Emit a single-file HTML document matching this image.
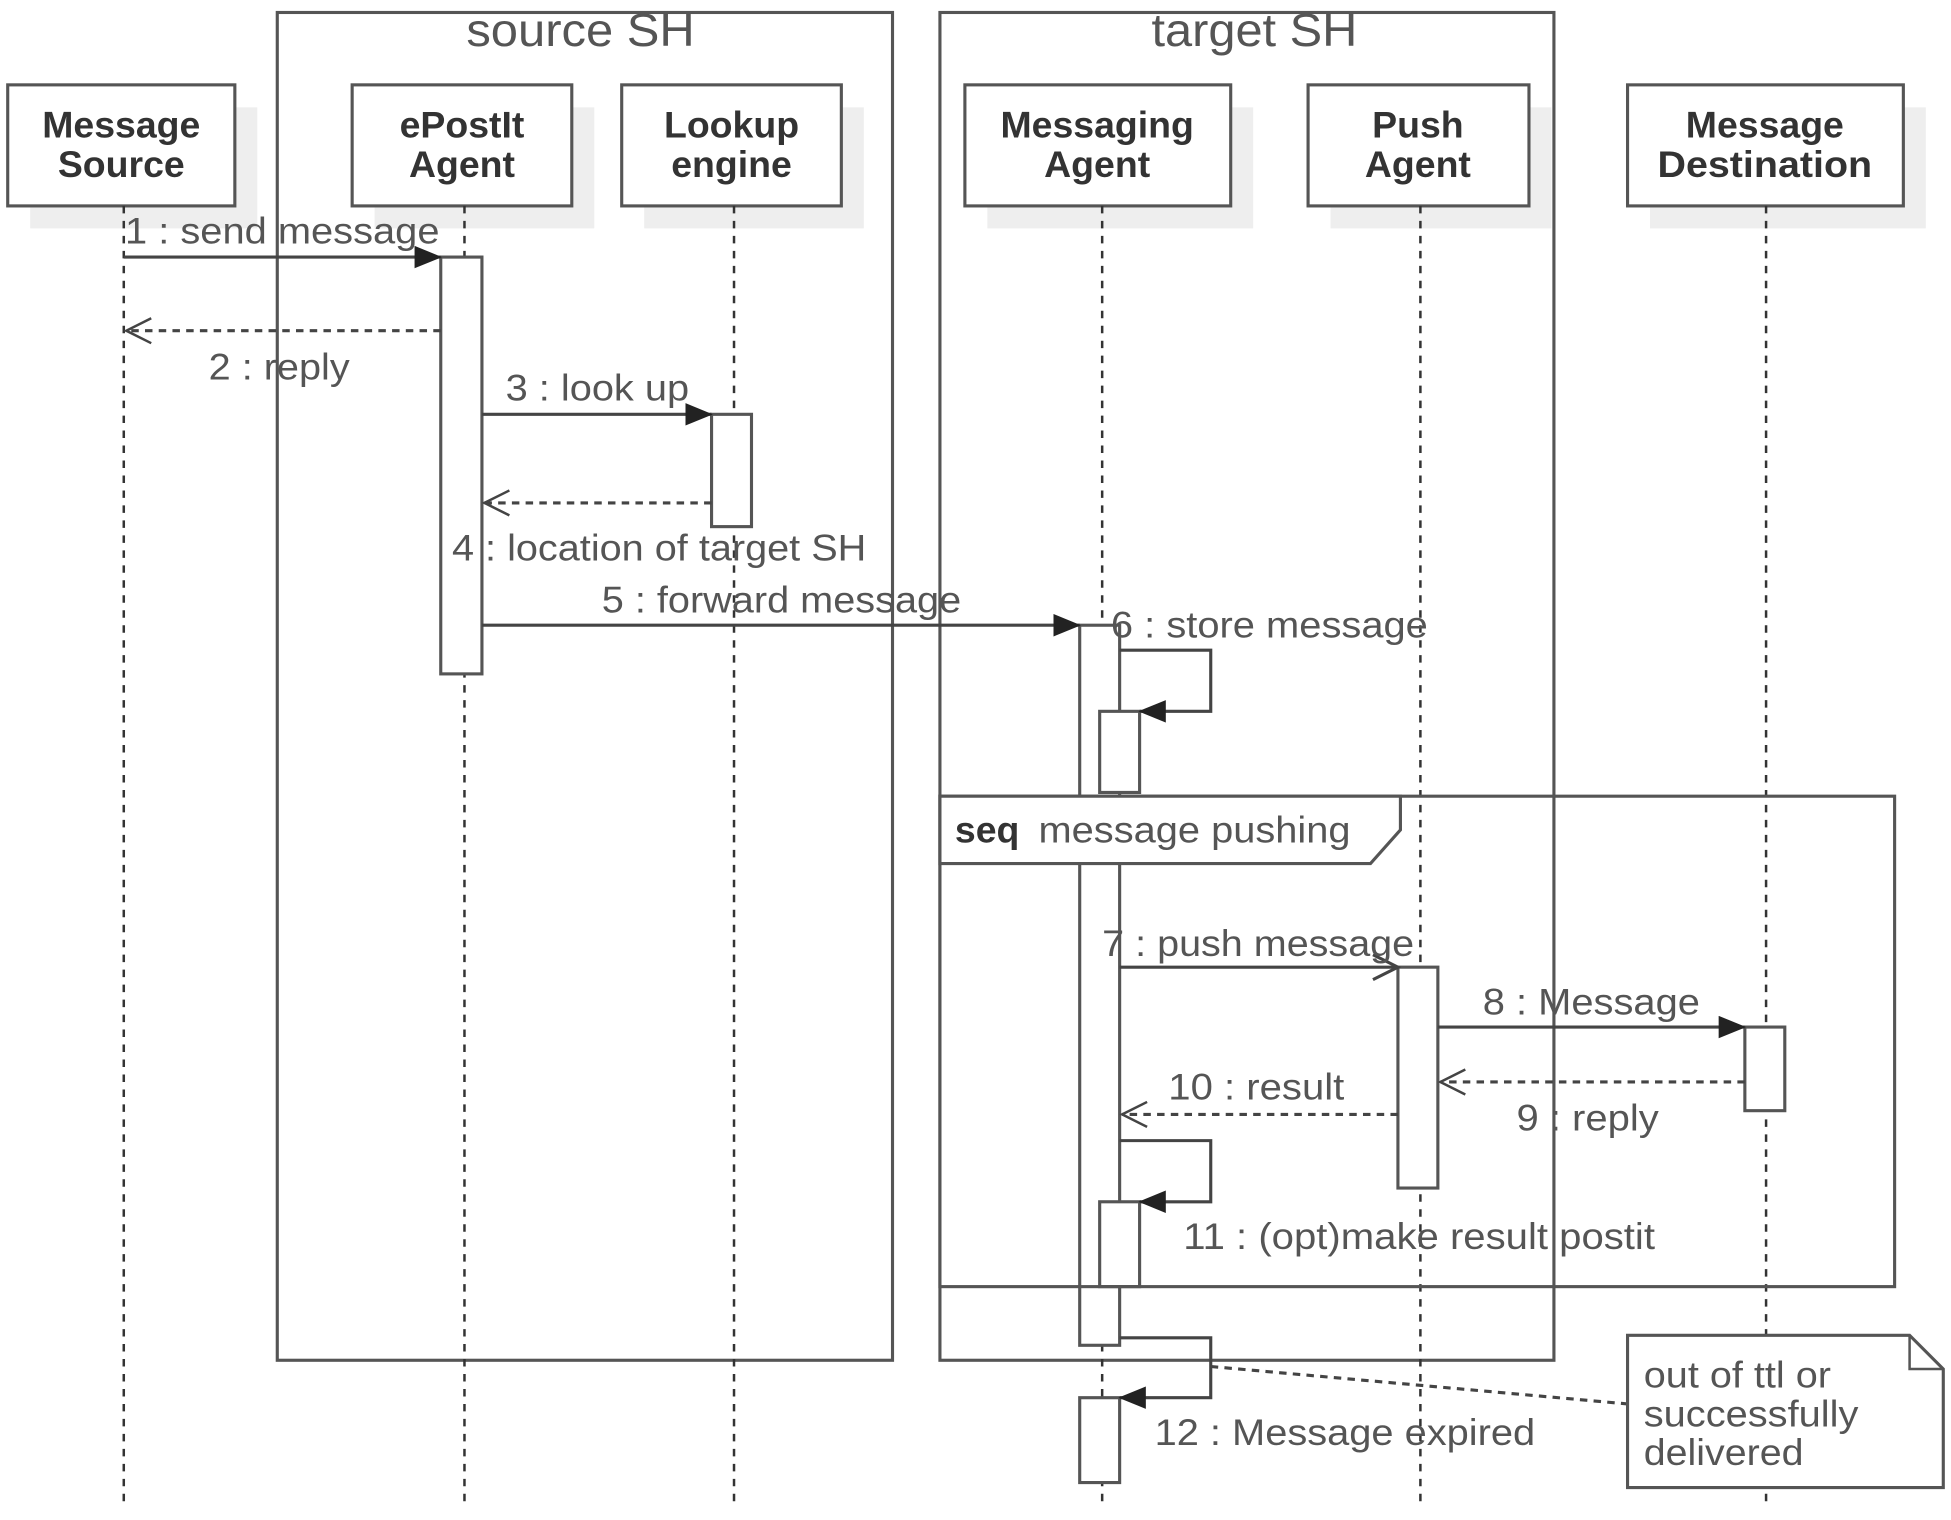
<!DOCTYPE html>
<html><head><meta charset="utf-8"><style>
html,body{margin:0;padding:0;background:#fff;}
svg{display:block;}
text{font-family:"Liberation Sans",sans-serif;fill:#555;}
.p{font-weight:bold;fill:#333;font-size:30px;text-anchor:middle;}
.m{font-size:30px;}
</style></head><body>
<svg width="1951" height="1520" viewBox="0 0 1563 1218" xmlns="http://www.w3.org/2000/svg">
<defs>
<marker id="f" markerWidth="22" markerHeight="18" refX="21" refY="9" orient="auto" markerUnits="userSpaceOnUse" viewBox="0 0 22 18"><path d="M0,0 L22,9 L0,18 z" fill="#222"/></marker>
</defs>
<g fill="none" stroke="#555" stroke-width="2.5">
<rect x="222" y="10" width="493" height="1080"/>
<rect x="753" y="10" width="492" height="1080"/>
</g>
<text x="465" y="37" class="m" style="font-size:37px" text-anchor="middle" textLength="183" lengthAdjust="spacingAndGlyphs">source SH</text>
<text x="1005" y="37" class="m" style="font-size:37px" text-anchor="middle" textLength="165" lengthAdjust="spacingAndGlyphs">target SH</text>
<g fill="#eee">
<rect x="24" y="86" width="182" height="97"/><rect x="300" y="86" width="176" height="97"/><rect x="516" y="86" width="176" height="97"/><rect x="791" y="86" width="213" height="97"/><rect x="1066" y="86" width="177" height="97"/><rect x="1322" y="86" width="221" height="97"/>
</g>
<g fill="#fff" stroke="#555" stroke-width="2.5">
<rect x="6" y="68" width="182" height="97"/><rect x="282" y="68" width="176" height="97"/><rect x="498" y="68" width="176" height="97"/><rect x="773" y="68" width="213" height="97"/><rect x="1048" y="68" width="177" height="97"/><rect x="1304" y="68" width="221" height="97"/>
</g>
<text class="p" x="97" y="110">Message</text><text class="p" x="97" y="142">Source</text>
<text class="p" x="370" y="110">ePostIt</text><text class="p" x="370" y="142">Agent</text>
<text class="p" x="586" y="110">Lookup</text><text class="p" x="586" y="142">engine</text>
<text class="p" x="879" y="110">Messaging</text><text class="p" x="879" y="142">Agent</text>
<text class="p" x="1136" y="110">Push</text><text class="p" x="1136" y="142">Agent</text>
<text class="p" x="1414" y="110">Message</text><text class="p" x="1414" y="142" textLength="172" lengthAdjust="spacingAndGlyphs">Destination</text>
<g stroke="#333" stroke-width="2" stroke-dasharray="6,6">
<line x1="99" y1="165" x2="99" y2="1207"/><line x1="372" y1="165" x2="372" y2="1207"/><line x1="588" y1="165" x2="588" y2="1207"/><line x1="883" y1="165" x2="883" y2="1207"/><line x1="1138" y1="165" x2="1138" y2="1207"/><line x1="1415" y1="165" x2="1415" y2="1207"/>
</g>
<g fill="#fff" stroke="#555" stroke-width="2.5">
<rect x="353" y="206" width="33" height="334"/>
<rect x="570" y="332" width="32" height="90"/>
<rect x="865" y="501" width="32" height="577"/>
<rect x="881" y="570" width="32" height="65"/>
<rect x="1120" y="775" width="32" height="177"/>
<rect x="1398" y="823" width="32" height="67"/>
<rect x="881" y="963" width="32" height="68"/>
<rect x="865" y="1120" width="32" height="68"/>
</g>
<g stroke="#555" stroke-width="2.5">
<rect x="753" y="638" width="765" height="393" fill="none"/>
<path d="M753,638 L1122,638 L1122,665 L1098,692 L753,692 Z" fill="#fff"/>
</g>
<text x="765" y="675" class="m" style="font-weight:bold;fill:#333">seq</text>
<text x="832" y="675" class="m" textLength="250" lengthAdjust="spacingAndGlyphs">message pushing</text>
<g fill="none" stroke="#444" stroke-width="2.5">
<line x1="99" y1="206" x2="353" y2="206" marker-end="url(#f)"/>
<line x1="386" y1="332" x2="570" y2="332" marker-end="url(#f)"/>
<line x1="386" y1="501" x2="865" y2="501" marker-end="url(#f)"/>
<path d="M897,521 H970 V570 H913" marker-end="url(#f)"/>
<line x1="897" y1="775" x2="1120" y2="775"/>
<path d="M1100,765 L1120,775 L1100,785"/>
<line x1="1152" y1="823" x2="1398" y2="823" marker-end="url(#f)"/>
<path d="M897,914 H970 V963 H913" marker-end="url(#f)"/>
<path d="M897,1072 H970 V1120 H897" marker-end="url(#f)"/>
</g>
<g fill="none" stroke="#444" stroke-width="2.5" stroke-dasharray="6,5">
<line x1="353" y1="265" x2="101" y2="265"/>
<line x1="570" y1="403" x2="388" y2="403"/>
<line x1="1398" y1="867" x2="1154" y2="867"/>
<line x1="1120" y1="893" x2="899" y2="893"/>
<line x1="970" y1="1095" x2="1304" y2="1125"/>
</g>
<g fill="none" stroke="#444" stroke-width="2">
<path d="M121,255 L101,265 L121,275"/>
<path d="M408,393 L388,403 L408,413"/>
<path d="M1174,857 L1154,867 L1174,877"/>
<path d="M919,883 L899,893 L919,903"/>
</g>
<text class="m" x="100" y="195" textLength="252" lengthAdjust="spacingAndGlyphs">1 : send message</text>
<text class="m" x="167" y="304" textLength="113" lengthAdjust="spacingAndGlyphs">2 : reply</text>
<text class="m" x="405" y="321" textLength="147" lengthAdjust="spacingAndGlyphs">3 : look up</text>
<text class="m" x="362" y="449" textLength="332" lengthAdjust="spacingAndGlyphs">4 : location of target SH</text>
<text class="m" x="482" y="491" textLength="288" lengthAdjust="spacingAndGlyphs">5 : forward message</text>
<text class="m" x="890" y="511" textLength="254" lengthAdjust="spacingAndGlyphs">6 : store message</text>
<text class="m" x="883" y="766" textLength="250" lengthAdjust="spacingAndGlyphs">7 : push message</text>
<text class="m" x="1188" y="813" textLength="174" lengthAdjust="spacingAndGlyphs">8 : Message</text>
<text class="m" x="1215" y="906" textLength="114" lengthAdjust="spacingAndGlyphs">9 : reply</text>
<text class="m" x="936" y="881" textLength="141" lengthAdjust="spacingAndGlyphs">10 : result</text>
<text class="m" x="948" y="1001" textLength="378" lengthAdjust="spacingAndGlyphs">11 : (opt)make result postit</text>
<text class="m" x="925" y="1158" textLength="305" lengthAdjust="spacingAndGlyphs">12 : Message expired</text>
<path d="M1304,1070 H1530 L1557,1097 V1192 H1304 Z" fill="#fff" stroke="#555" stroke-width="2.5"/>
<path d="M1530,1070 V1097 H1557" fill="none" stroke="#555" stroke-width="2"/>
<text class="m" x="1317" y="1112" textLength="150" lengthAdjust="spacingAndGlyphs">out of ttl or</text>
<text class="m" x="1317" y="1143" textLength="172" lengthAdjust="spacingAndGlyphs">successfully</text>
<text class="m" x="1317" y="1174" textLength="128" lengthAdjust="spacingAndGlyphs">delivered</text>
</svg>
</body></html>
